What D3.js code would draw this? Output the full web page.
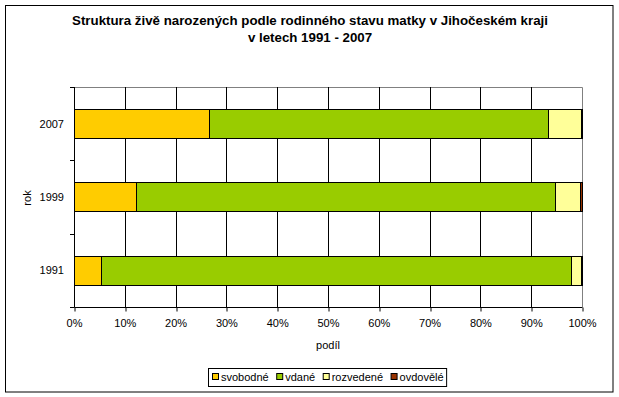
<!DOCTYPE html>
<html>
<head>
<meta charset="utf-8">
<script src="https://cdn.jsdelivr.net/npm/d3@7"></script>
<style>
  body { margin: 0; background: #fff; }
  svg text { font-family: "Liberation Sans", Arial, sans-serif; fill: #000; }
</style>
</head>
<body>
<svg id="chart" width="619" height="397"></svg>
<script>
// shares (%), bottom-to-top order of years
var years = ["1991", "1999", "2007"];
var categories = ["svobodné", "vdané", "rozvedené", "ovdovělé"];
var svobodne  = [5.4, 12.2, 26.6];
var vdane     = [92.5, 82.5, 66.8];
var rozvedene = [1.9, 5.0, 6.4];
var ovdovele  = [0.2, 0.3, 0.2];
var xTicks = [0, 10, 20, 30, 40, 50, 60, 70, 80, 90, 100];
var colors = ["#FFCC00", "#99CC00", "#FFFF99", "#993300"];

var svg = d3.select("#chart");
var m = {left: 74, right: 582, top: 87, bottom: 307};

// outer frame
svg.append("rect").attr("x", 5.5).attr("y", 5.5).attr("width", 607.5).attr("height", 386.5)
  .attr("fill", "#fff").attr("stroke", "#000").attr("stroke-width", 1);

// title
var title = svg.append("text").attr("text-anchor", "middle")
  .style("font-weight", "bold").style("font-size", "13.3px");
title.append("tspan").attr("x", 310).attr("y", 25).text("Struktura živě narozených podle rodinného stavu matky v Jihočeském kraji");
title.append("tspan").attr("x", 310).attr("y", 42).text("v letech 1991 - 2007");

var x = d3.scaleLinear().domain([0, 100]).range([m.left, m.right]);
var y = d3.scaleBand().domain(years.slice().reverse()).range([m.top, m.bottom]).paddingInner(0.6).paddingOuter(0.3);

// build stack input from the arrays
var rows = years.map(function(yr, i) {
  return {year: yr, "svobodné": svobodne[i], "vdané": vdane[i], "rozvedené": rozvedene[i], "ovdovělé": ovdovele[i]};
});
var series = d3.stack().keys(categories)(rows);

// plot border (gray top/right)
svg.append("path")
  .attr("d", "M" + m.left + "," + (m.top + 0.5) + "H" + (m.right + 0.5) + "V" + m.bottom)
  .attr("fill", "none").attr("stroke", "#808080");

// gridlines
svg.append("g").selectAll("line")
  .data(xTicks.filter(function(t) { return t > 0 && t < 100; }))
  .enter().append("line")
  .attr("x1", function(d) { return Math.round(x(d)) + 0.5; })
  .attr("x2", function(d) { return Math.round(x(d)) + 0.5; })
  .attr("y1", m.top).attr("y2", m.bottom)
  .attr("stroke", "#000");

// bars
svg.append("g").selectAll("g")
  .data(series)
  .enter().append("g")
  .attr("fill", function(d, i) { return colors[i]; })
  .selectAll("rect")
  .data(function(d) { return d; })
  .enter().append("rect")
  .attr("x", function(d) { return Math.round(x(d[0])) + 0.5; })
  .attr("width", function(d) { return Math.round(x(d[1])) - Math.round(x(d[0])); })
  .attr("y", function(d) { return Math.round(y(d.data.year)) + 0.5; })
  .attr("height", Math.round(y.bandwidth()))
  .attr("stroke", "#000").attr("stroke-width", 1);

// x axis
var xAxis = svg.append("g").attr("transform", "translate(0," + (m.bottom + 0.5) + ")")
  .call(d3.axisBottom(x).tickValues(xTicks).tickSize(4).tickPadding(8)
    .tickFormat(function(d) { return d + "%"; }));
xAxis.select(".domain").attr("d", "M" + (m.left + 0.5) + ",0H" + (m.right + 0.5)).attr("stroke", "#000");
xAxis.selectAll(".tick line").attr("stroke", "#000")
  .attr("transform", function(d) { return "translate(" + (Math.round(x(d)) + 0.5 - x(d)) + ",0)"; });
xAxis.selectAll("text").style("font-size", "11px").attr("font-family", null);

// y axis: ticks on category boundaries
var yAxisG = svg.append("g");
yAxisG.append("line").attr("x1", m.left + 0.5).attr("x2", m.left + 0.5)
  .attr("y1", m.top).attr("y2", m.bottom + 0.5).attr("stroke", "#000");
var step = (m.bottom - m.top) / years.length;
yAxisG.selectAll(".yt").data(d3.range(years.length + 1)).enter().append("line")
  .attr("x1", m.left - 4).attr("x2", m.left + 0.5)
  .attr("y1", function(i) { return Math.round(m.top + i * step) + 0.5; })
  .attr("y2", function(i) { return Math.round(m.top + i * step) + 0.5; })
  .attr("stroke", "#000");
yAxisG.selectAll(".yl").data(years).enter().append("text")
  .attr("x", 64).attr("y", function(d) { return y(d) + y.bandwidth() / 2; })
  .attr("dy", "0.35em").attr("text-anchor", "end").style("font-size", "11px")
  .text(function(d) { return d; });

// axis titles
svg.append("text").attr("x", (m.left + m.right) / 2).attr("y", 349)
  .attr("text-anchor", "middle").style("font-size", "11px").text("podíl");
svg.append("text").attr("transform", "translate(31,198) rotate(-90)")
  .attr("text-anchor", "middle").style("font-size", "11px").text("rok");

// legend
var legend = svg.append("g");
var lx = 212, ly = 377;
var items = legend.selectAll("g").data(categories).enter().append("g");
items.each(function(d, i) {
  var g = d3.select(this);
  g.append("rect").attr("x", 0.5).attr("y", -3.5).attr("width", 6).attr("height", 6)
    .attr("fill", colors[i]).attr("stroke", "#000");
  g.append("text").attr("x", 9).attr("y", 0).attr("dy", "0.35em")
    .style("font-size", "11px").text(d);
});
var cur = lx;
items.each(function() {
  var g = d3.select(this);
  g.attr("transform", "translate(" + cur + "," + ly + ")");
  cur += 9 + g.select("text").node().getComputedTextLength() + 7.5;
});
legend.insert("rect", ":first-child")
  .attr("x", 208.5).attr("y", 368.5).attr("width", cur - 208 - 5).attr("height", 18)
  .attr("fill", "#fff").attr("stroke", "#000");
</script>
</body>
</html>
